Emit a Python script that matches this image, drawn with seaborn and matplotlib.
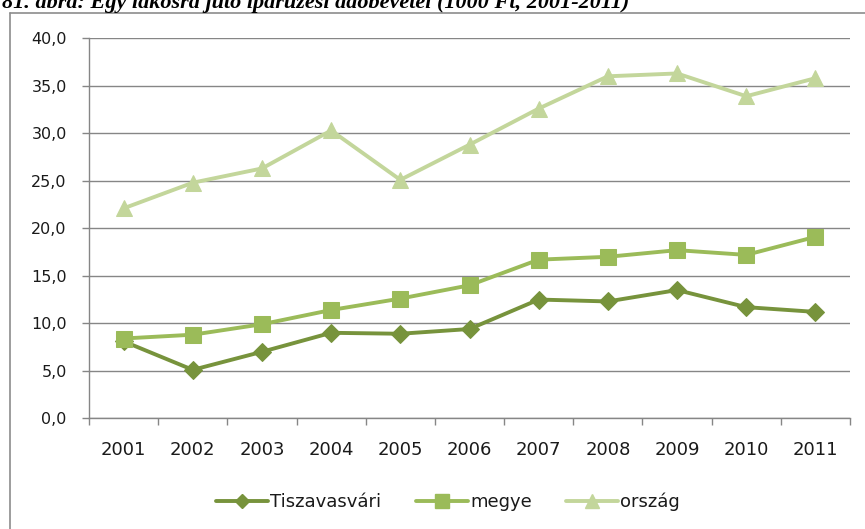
import matplotlib
matplotlib.use("Agg")
import matplotlib.pyplot as plt
from matplotlib.lines import Line2D
from matplotlib.ticker import FuncFormatter, FixedLocator
import seaborn as sns
import pandas as pd

years = [2001, 2002, 2003, 2004, 2005, 2006, 2007, 2008, 2009, 2010, 2011]
tiszavasvari = [8.1, 5.1, 7.0, 9.0, 8.9, 9.4, 12.5, 12.3, 13.5, 11.7, 11.2]
megye = [8.4, 8.8, 9.9, 11.4, 12.6, 14.0, 16.7, 17.0, 17.7, 17.2, 19.1]
orszag = [22.1, 24.8, 26.3, 30.3, 25.1, 28.8, 32.6, 36.0, 36.3, 33.9, 35.8]
series_names = ["Tiszavasvári", "megye", "ország"]
title = "81. ábra: Egy lakosra jutó iparűzési adóbevétel (1000 Ft, 2001-2011)"

df = pd.DataFrame({
    "év": years * 3,
    "érték": tiszavasvari + megye + orszag,
    "sorozat": sum([[n] * len(years) for n in series_names], []),
})

colors = {"Tiszavasvári": "#77933C", "megye": "#9BBB59", "ország": "#C3D69B"}
markers = {"Tiszavasvári": "D", "megye": "s", "ország": "^"}
msizes = {"Tiszavasvári": 9, "megye": 12, "ország": 12}

sns.set_theme(style="white")
plt.rcParams["font.family"] = ["DejaVu Sans"]

fig = plt.figure(figsize=(8.65, 5.29), dpi=100)
ax = fig.add_axes([89 / 865, 1 - 418.3 / 529, (850 - 89) / 865, (418.3 - 38.3) / 529])

for name in series_names:
    sub = df[df["sorozat"] == name]
    sns.lineplot(data=sub, x="év", y="érték", ax=ax, color=colors[name],
                 marker=markers[name], markersize=msizes[name],
                 markeredgecolor=colors[name], linewidth=2.8, legend=False)

ax.set_xlim(2000.5, 2011.5)
ax.set_ylim(0, 40)
ax.set_xlabel("")
ax.set_ylabel("")

grid_c = "#868686"
text_c = "#1a1a1a"
ax.set_yticks(range(0, 41, 5))
ax.yaxis.set_major_formatter(FuncFormatter(lambda v, p: f"{v:.1f}".replace(".", ",")))
ax.yaxis.grid(True, color=grid_c, linewidth=1.0)
ax.set_axisbelow(True)

ax.xaxis.set_major_locator(FixedLocator([y - 0.5 for y in years] + [2011.5]))
ax.xaxis.set_major_formatter(FuncFormatter(lambda v, p: ""))
ax.xaxis.set_minor_locator(FixedLocator(years))
ax.xaxis.set_minor_formatter(FuncFormatter(lambda v, p: f"{int(round(v))}"))

ax.tick_params(axis="x", which="major", length=5, width=1, color=grid_c, direction="out", bottom=True)
ax.tick_params(axis="x", which="minor", length=0, pad=16, labelsize=13, labelcolor=text_c)
ax.tick_params(axis="y", length=5, width=1, color=grid_c, direction="out", left=True,
               pad=11, labelsize=11.5, labelcolor=text_c)

for s in ["top", "right"]:
    ax.spines[s].set_visible(False)
for s in ["left", "bottom"]:
    ax.spines[s].set_color(grid_c)
    ax.spines[s].set_linewidth(1.0)

handles = [Line2D([], [], color=colors[n], marker=markers[n], markersize=msizes[n] * 0.8,
                  markeredgecolor=colors[n], linewidth=2.8) for n in series_names]
fig.legend(handles, series_names, loc="center", bbox_to_anchor=(448 / 865, 1 - 502 / 529),
           ncol=3, frameon=False, fontsize=13, handlelength=2.9, handletextpad=0.1,
           columnspacing=1.9, labelcolor=text_c)

# outer chart frame
frame_c = "#8c8c8c"
fig.add_artist(Line2D([10 / 865, 1.0], [1 - 13 / 529, 1 - 13 / 529], color=frame_c,
                      linewidth=1.2, transform=fig.transFigure))
fig.add_artist(Line2D([10 / 865, 10 / 865], [0.0, 1 - 13 / 529], color=frame_c,
                      linewidth=1.2, transform=fig.transFigure))

fig.text(2 / 865, 1 - 8 / 529, title, ha="left", va="baseline", fontsize=16,
         fontweight="bold", fontstyle="italic", family=["Liberation Serif"], color="black")

fig.savefig("out.png", dpi=100, facecolor="white")
